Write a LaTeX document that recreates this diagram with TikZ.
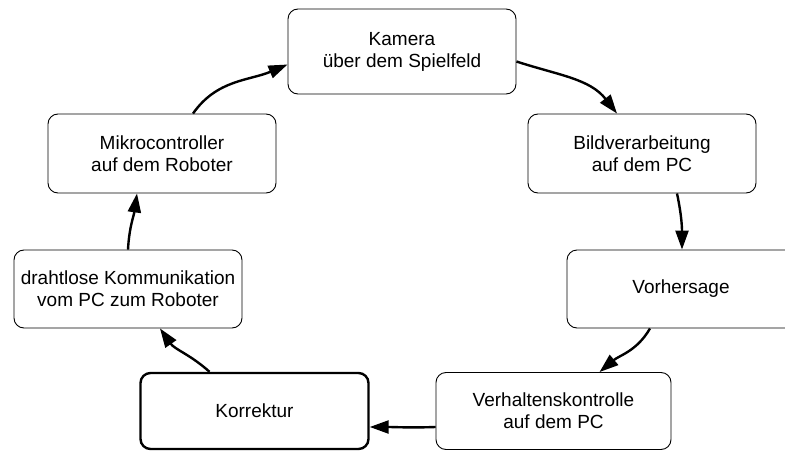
\documentclass[tikz,border=0pt]{standalone}
\usepackage{fontspec}
\setmainfont{Liberation Sans}
\usetikzlibrary{arrows.meta,calc}
\begin{document}
\begin{tikzpicture}[x=1pt,y=1pt,
  box/.style={draw, rounded corners=10pt, line width=0.9pt, align=center, inner sep=0pt,
    minimum width=228pt, minimum height=79pt, font=\fontsize{19}{22}\selectfont},
  thick box/.style={box, line width=2.4pt},
  flow/.style={line width=2.4pt, -{Triangle[length=19pt,width=13pt]}}]
\useasboundingbox (0,0) rectangle (785,451);
\node[box, minimum height=85pt] (kam) at (402,399.5) {Kamera\\über dem Spielfeld};
\node[box] (mik) at (162,297.5) {Mikrocontroller\\auf dem Roboter};
\node[box] (bild) at (642,297.5) {Bildverarbeitung\\auf dem PC};
\node[box, minimum height=78pt] (draht) at (128,162) {drahtlose Kommunikation\\vom PC zum Roboter};
\node[box, minimum height=78pt] (vor) at (681,162) {Vorhersage};
\node[thick box, minimum width=228pt, minimum height=76pt] (kor) at (254.5,40) {Korrektur};
\node[box, minimum width=235pt, minimum height=77pt] (ver) at (553.5,40) {Verhaltenskontrolle\\auf dem PC};
\draw[flow] ($(mik.north)+(31,0)$) to[out=55,in=203] ($(kam.west)+(0,-13)$);
\draw[flow] ($(kam.east)+(0,-10)$) to[out=-18,in=128] ($(bild.north)+(-25,0)$);
\draw[flow] ($(bild.south)+(35,0)$) to[out=-78,in=90] ($(vor.north)+(1,0)$);
\draw[flow] ($(vor.south)+(-31,0)$) to[out=-120,in=40] ($(ver.north)+(46,0)$);
\draw[flow] ($(ver.west)+(0,-16)$) to[out=182,in=0] ($(kor.east)+(0,-16)$);
\draw[flow] ($(kor.north)+(-45,0)$) to[out=138,in=-55] ($(draht.south)+(32,0)$);
\draw[flow] ($(draht.north)+(0,0)$) to[out=87,in=-98] ($(mik.south)+(-25,0)$);
\end{tikzpicture}
\end{document}
